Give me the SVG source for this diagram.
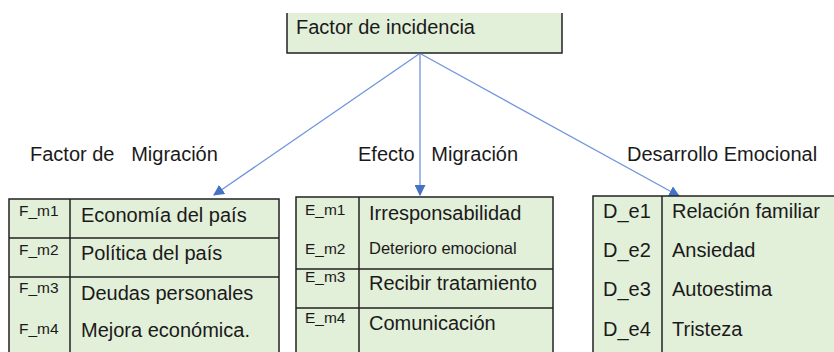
<svg xmlns="http://www.w3.org/2000/svg" width="834" height="352" viewBox="0 0 834 352">
<defs>
<style>
.box{fill:#e2efd9;stroke:#222;stroke-width:1.5}
.ln{stroke:#222;stroke-width:1.5;fill:none}
.t{font-family:"Liberation Sans",Arial,sans-serif;fill:#1a1a1a}
.h{font-size:20px}
.c{font-size:15.5px}
.i{font-size:20px}
.s{font-size:16.5px}
.d{font-size:20px}
.lb{font-size:20px}
.con{stroke:#6f95dc;stroke-width:1.3;fill:none}
</style>
<marker id="ah" viewBox="0 0 10 10" refX="9" refY="5" markerWidth="11" markerHeight="11" markerUnits="userSpaceOnUse" orient="auto">
<path d="M0,0 L10,5 L0,10 z" fill="#4472c4"/>
</marker>
</defs>
<rect width="834" height="352" fill="#fff"/>

<g id="top">
<rect x="287" y="13" width="275" height="40" fill="#e2efd9"/>
<path class="ln" d="M287,13 V53 H562 V13"/>
<text class="t h" x="296" y="34">Factor de incidencia</text>
</g>

<g id="connectors">
<line class="con" x1="419" y1="54" x2="214" y2="195" marker-end="url(#ah)"/>
<line class="con" x1="420" y1="54" x2="420" y2="195" marker-end="url(#ah)"/>
<line class="con" x1="421" y1="54" x2="679" y2="196" marker-end="url(#ah)"/>
</g>

<g id="label-factor">
<text class="t lb" x="30" y="161" xml:space="preserve">Factor de   Migración</text>
</g>
<g id="label-efecto">
<text class="t lb" x="358" y="161" xml:space="preserve">Efecto   Migración</text>
</g>
<g id="label-desarrollo">
<text class="t lb" x="627" y="161">Desarrollo Emocional</text>
</g>

<g id="table-factor">
<rect class="box" x="9" y="199" width="270" height="160"/>
<line class="ln" x1="70" y1="199" x2="70" y2="352"/>
<line class="ln" x1="9" y1="238" x2="279" y2="238"/>
<line class="ln" x1="9" y1="277" x2="279" y2="277"/>
<text class="t c" x="19" y="216">F_m1</text>
<text class="t i" x="81" y="222">Economía del país</text>
<text class="t c" x="19" y="255">F_m2</text>
<text class="t i" x="81" y="260">Política del país</text>
<text class="t c" x="19" y="293">F_m3</text>
<text class="t i" x="81" y="300">Deudas personales</text>
<text class="t c" x="19" y="334">F_m4</text>
<text class="t i" x="81" y="337">Mejora económica.</text>
</g>

<g id="table-efecto">
<rect class="box" x="296" y="197" width="257" height="162"/>
<line class="ln" x1="359" y1="197" x2="359" y2="352"/>
<line class="ln" x1="296" y1="269" x2="553" y2="269"/>
<line class="ln" x1="296" y1="308" x2="553" y2="308"/>
<text class="t c" x="305" y="215">E_m1</text>
<text class="t i" x="369" y="220">Irresponsabilidad</text>
<text class="t c" x="305" y="254">E_m2</text>
<text class="t s" x="369" y="254">Deterioro emocional</text>
<text class="t c" x="305" y="282">E_m3</text>
<text class="t i" x="369" y="290">Recibir tratamiento</text>
<text class="t c" x="305" y="323">E_m4</text>
<text class="t i" x="369" y="330">Comunicación</text>
</g>

<g id="table-desarrollo">
<rect class="box" x="593" y="196" width="260" height="165"/>
<line class="ln" x1="662" y1="196" x2="662" y2="352"/>
<text class="t d" x="603" y="218">D_e1</text>
<text class="t d" x="672" y="218">Relación familiar</text>
<text class="t d" x="603" y="257">D_e2</text>
<text class="t d" x="672" y="257">Ansiedad</text>
<text class="t d" x="603" y="296">D_e3</text>
<text class="t d" x="672" y="296">Autoestima</text>
<text class="t d" x="603" y="336">D_e4</text>
<text class="t d" x="672" y="336">Tristeza</text>
</g>
</svg>
